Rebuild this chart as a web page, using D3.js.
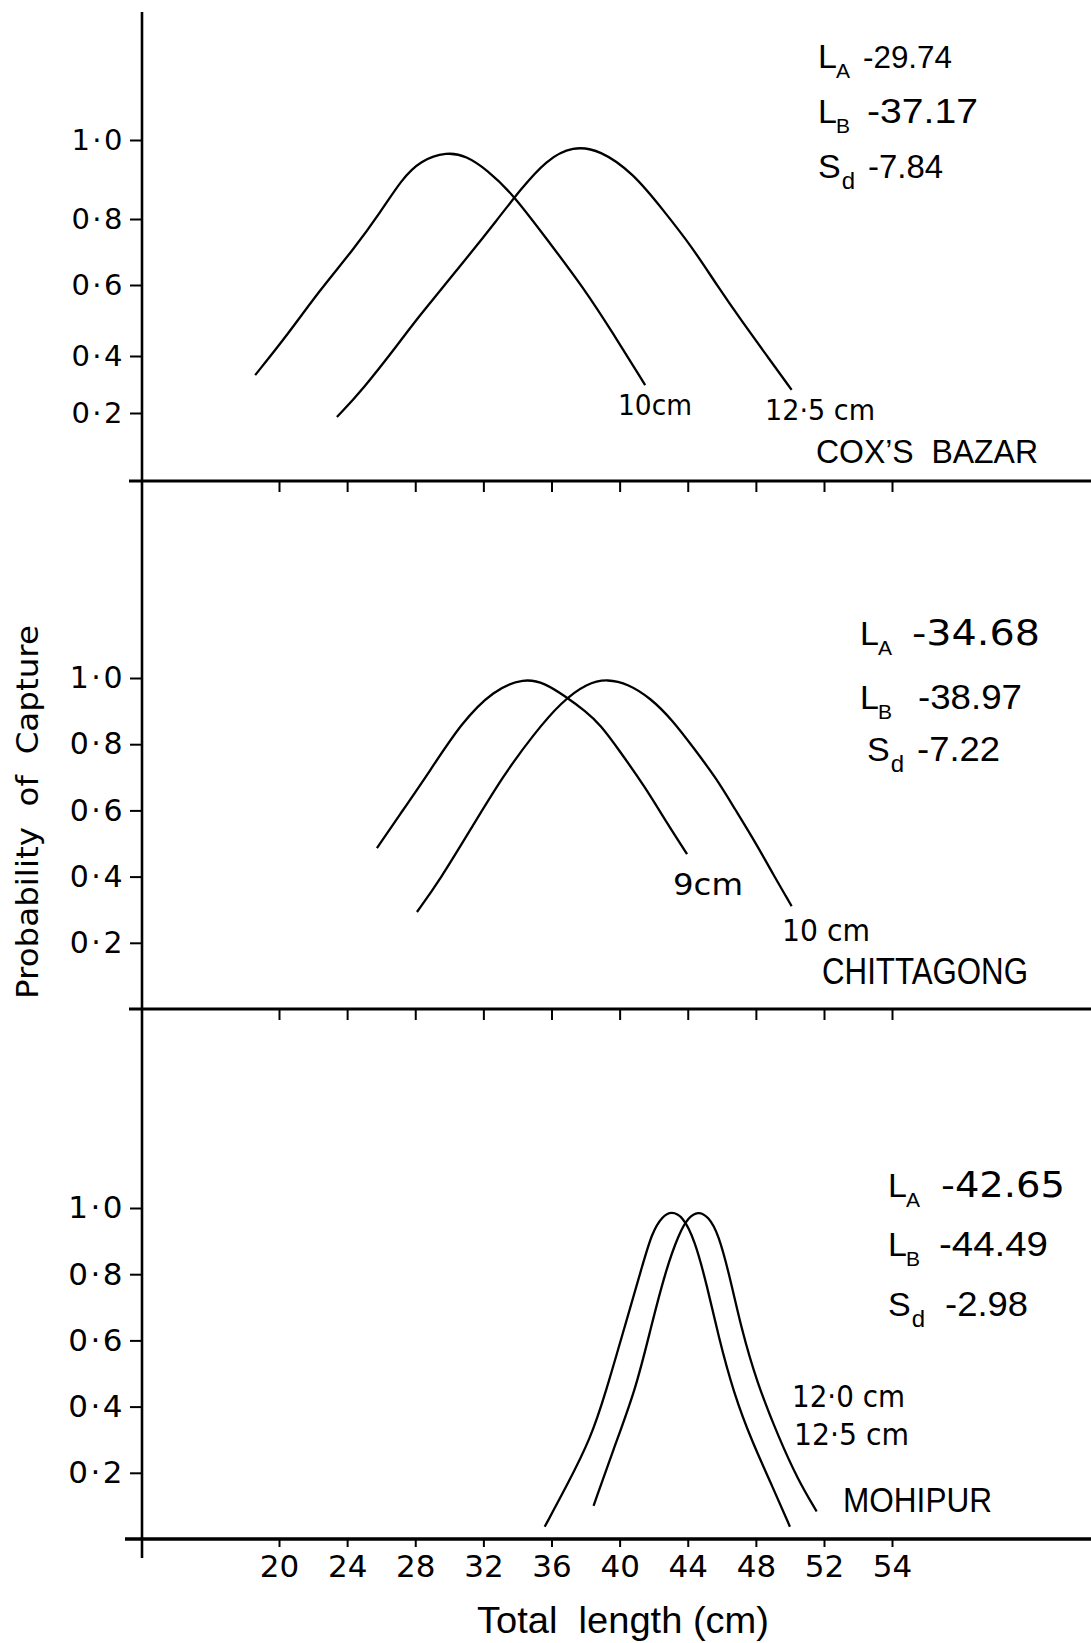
<!DOCTYPE html>
<html>
<head>
<meta charset="utf-8">
<script src="https://cdn.jsdelivr.net/npm/d3@7"></script>
<style>
  html, body { margin: 0; padding: 0; background: #fff; }
  svg { display: block; }
  text { white-space: pre; }
</style>
</head>
<body>
<svg id="chart" width="1091" height="1643"></svg>
<script>
// ---------------- DATA ----------------
const xTicks = [20, 24, 28, 32, 36, 40, 44, 48, 52, 54];
const xTickLabels = ["20", "24", "28", "32", "36", "40", "44", "48", "52", "54"];
const yTicks = [0.2, 0.4, 0.6, 0.8, 1.0];
const yTickLabels = ["0·2", "0·4", "0·6", "0·8", "1·0"];

const xTitle = "Total  length (cm)";
const yTitle = "Probability  of  Capture";

const regions = ["COX\u2019S  BAZAR", "CHITTAGONG", "MOHIPUR"];

// Cox's Bazar: [total length cm, probability]
const cox10cm = [[18.6,0.333],[20.5,0.46],[22.4,0.586],[24.35,0.706],[26.0,0.82],[27.2,0.90],[28.3,0.948],[29.86,0.970],[31.0,0.960],[32.2,0.925],[33.7,0.865],[35.9,0.727],[37.85,0.594],[39.6,0.465],[41.5,0.298]];
const cox125cm = [[23.4,0.188],[24.9,0.281],[27.1,0.440],[28.1,0.505],[30.8,0.667],[32.8,0.797],[34.15,0.873],[35.7,0.950],[37.26,0.985],[38.85,0.975],[40.8,0.916],[42.55,0.823],[44.3,0.712],[45.7,0.600],[47.25,0.493],[48.66,0.400],[50.1,0.281]];

// Chittagong
const chit9cm = [[25.75,0.486],[27.0,0.580],[28.9,0.722],[30.7,0.864],[32.6,0.964],[34.4,1.0],[35.6,0.985],[36.8,0.945],[38.0,0.900],[38.85,0.860],[40.0,0.780],[41.5,0.670],[42.8,0.560],[43.96,0.468]];
const chit10cm = [[28.1,0.293],[29.45,0.390],[31.3,0.547],[33.15,0.704],[34.97,0.831],[36.56,0.927],[38.1,0.985],[39.3,0.997],[40.5,0.982],[41.8,0.940],[43.1,0.873],[44.4,0.785],[45.7,0.695],[46.7,0.610],[48.07,0.495],[49.0,0.408],[50.1,0.311]];

// Mohipur
const moh12cm = [[35.6,0.037],[36.96,0.167],[38.3,0.304],[39.17,0.440],[40.28,0.638],[41.39,0.836],[41.9,0.925],[42.5,0.975],[43.05,0.990],[43.7,0.975],[44.4,0.905],[45.15,0.762],[45.8,0.613],[46.7,0.440],[47.8,0.291],[48.9,0.167],[50.0,0.037]];
const moh125cm = [[38.47,0.100],[39.6,0.266],[40.95,0.452],[41.83,0.638],[42.7,0.811],[43.5,0.925],[44.05,0.972],[44.6,0.990],[45.2,0.975],[45.8,0.923],[46.5,0.786],[47.14,0.638],[48.03,0.477],[49.36,0.304],[50.46,0.180],[51.57,0.083]];

const curveLabels = [["10cm", "12·5 cm"], ["9cm", "10 cm"], ["12·0 cm", "12·5 cm"]];

const statSubs = ["A", "B", "d"];
const statHeads = ["L", "L", "S"];
const coxStats = ["-29.74", "-37.17", "-7.84"];
const chitStats = ["-34.68", "-38.97", "-7.22"];
const mohStats = ["-42.65", "-44.49", "-2.98"];

// ---------------- DRAW ----------------
const svg = d3.select("#chart");
const SANS = "'Liberation Sans Narrow', 'Liberation Sans', Arial, sans-serif";
const SANSW = "'Liberation Sans', Arial, sans-serif";
const ROUND = "'DejaVu Sans', sans-serif";

const x = d3.scaleLinear().domain([20, 52, 54]).range([279, 824, 892]);

const yScales = [
  d3.scaleLinear().domain([0, 0.2, 0.4, 0.6, 0.8, 1.0]).range([481, 413, 356, 285, 219, 140]),
  d3.scaleLinear().domain([0, 1]).range([1009, 678]),
  d3.scaleLinear().domain([0, 1]).range([1539, 1208])
];
const yFont = [29, 30, 31];

// vertical axis line
svg.append("line").attr("x1", 142).attr("x2", 142).attr("y1", 12).attr("y2", 1558)
  .attr("stroke", "#000").attr("stroke-width", 2.6);

// y axes
yScales.forEach((y, i) => {
  const g = svg.append("g").attr("transform", "translate(142,0)")
    .call(d3.axisLeft(y).tickValues(yTicks).tickSize(12).tickPadding(5)
      .tickFormat((d, k) => yTickLabels[k]));
  g.select(".domain").remove();
  g.selectAll(".tick line").attr("stroke", "#000").attr("stroke-width", 2);
  g.selectAll(".tick text").attr("font-family", ROUND).attr("font-size", yFont[i])
    .attr("letter-spacing", 2.5).attr("fill", "#000");
});

// horizontal lines with ticks
const hLines = [481, 1009];
hLines.forEach(yy => {
  svg.append("line").attr("x1", 129).attr("x2", 1091).attr("y1", yy).attr("y2", yy)
    .attr("stroke", "#000").attr("stroke-width", 3);
  const g = svg.append("g").attr("transform", `translate(0,${yy})`)
    .call(d3.axisBottom(x).tickValues(xTicks).tickSize(11).tickFormat(""));
  g.select(".domain").remove();
  g.selectAll(".tick line").attr("stroke", "#000").attr("stroke-width", 2);
});

// bottom axis
svg.append("line").attr("x1", 125).attr("x2", 1091).attr("y1", 1539).attr("y2", 1539)
  .attr("stroke", "#000").attr("stroke-width", 3.4);
const gx = svg.append("g").attr("transform", "translate(0,1539)")
  .call(d3.axisBottom(x).tickValues(xTicks).tickSize(8).tickPadding(8)
    .tickFormat((d, k) => xTickLabels[k]));
gx.select(".domain").remove();
gx.selectAll(".tick line").attr("stroke", "#000").attr("stroke-width", 2);
gx.selectAll(".tick text").attr("font-family", ROUND).attr("font-size", 31).attr("fill", "#000");

// curves
const series = [[cox10cm, cox125cm], [chit9cm, chit10cm], [moh12cm, moh125cm]];
series.forEach((pair, i) => {
  const y = yScales[i];
  const line = d3.line().x(d => x(d[0])).y(d => y(d[1])).curve(d3.curveBasis);
  pair.forEach(s => {
    svg.append("path").attr("d", line(s)).attr("fill", "none")
      .attr("stroke", "#000").attr("stroke-width", 2.3).attr("stroke-linejoin", "round");
  });
});

// helper text
function txt(str, px, py, opts) {
  const t = svg.append("text").attr("x", px).attr("y", py).text(str)
    .attr("font-family", opts.font || SANS).attr("font-size", opts.size || 30).attr("fill", "#000");
  if (opts.len) t.attr("textLength", opts.len).attr("lengthAdjust", "spacingAndGlyphs");
  if (opts.anchor) t.attr("text-anchor", opts.anchor);
  if (opts.transform) t.attr("transform", opts.transform);
  return t;
}

// curve labels
txt(curveLabels[0][0], 618, 415, {font: ROUND, size: 28, len: 74});
txt(curveLabels[0][1], 765, 420, {font: ROUND, size: 28, len: 110});
txt(curveLabels[1][0], 673, 895, {font: ROUND, size: 31, len: 70});
txt(curveLabels[1][1], 782, 941, {font: ROUND, size: 31, len: 88});
txt(curveLabels[2][0], 792, 1407, {font: ROUND, size: 31, len: 113});
txt(curveLabels[2][1], 794, 1445, {font: ROUND, size: 31, len: 115});

// region names
txt(regions[0], 816, 463, {size: 34, len: 222});
txt(regions[1], 822, 984, {size: 36, len: 206});
txt(regions[2], 843, 1512, {size: 35, len: 149});

// stats: symbol (with subscript) and value as two text elements
const statLayout = [
  {hx: [818, 818, 818], nx: [863, 867, 868], base: [68, 123, 178], lens: [89, 111, 75], nfont: [SANS, SANS, SANS], nsize: [31, 35, 33]},
  {hx: [860, 860, 867], nx: [912, 918, 917], base: [645, 709, 761], lens: [128, 104, 83], nfont: [ROUND, SANS, SANS], nsize: [36, 35, 35]},
  {hx: [888, 888, 888], nx: [941, 939, 945], base: [1197, 1256, 1316], lens: [124, 109, 83], nfont: [ROUND, SANS, SANS], nsize: [36, 35, 35]}
];
const statsAll = [coxStats, chitStats, mohStats];
statsAll.forEach((vals, i) => {
  const L = statLayout[i];
  vals.forEach((v, k) => {
    const b = L.base[k];
    const t = svg.append("text").attr("x", L.hx[k]).attr("y", b)
      .attr("font-family", SANS).attr("font-size", 34).attr("fill", "#000");
    t.append("tspan").text(statHeads[k]);
    t.append("tspan").attr("dx", k === 2 ? 1 : -1).attr("dy", k === 2 ? 11 : 10)
      .attr("font-size", k === 2 ? 24 : 21).text(statSubs[k]);
    txt(v, L.nx[k], b, {font: L.nfont[k], size: L.nsize[k], len: L.lens[k]});
  });
});

// axis titles
txt(xTitle, 477, 1633, {font: SANSW, size: 36, len: 292});
txt(yTitle, 0, 0, {font: ROUND, size: 30, len: 374, anchor: "middle", transform: "translate(38,812) rotate(-90)"});
</script>
</body>
</html>
